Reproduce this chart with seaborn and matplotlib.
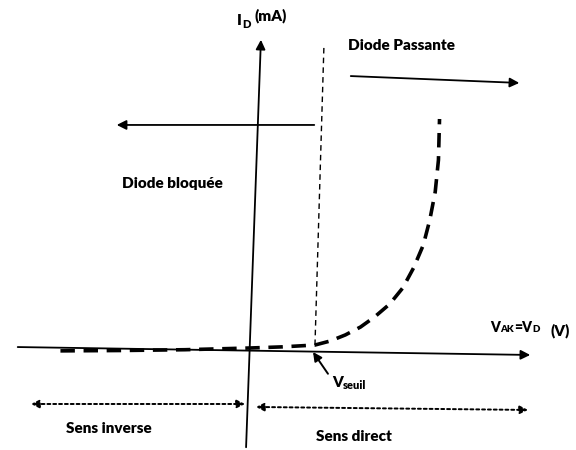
import numpy as np
import pandas as pd
import matplotlib.pyplot as plt
import seaborn as sns

# diode characteristic I_D = f(V_D) (V in volts, I in mA)
v_diode = [-1.75, -1.2, -0.6, 0.0, 0.3, 0.60, 0.74, 0.88, 1.02, 1.15, 1.29,
           1.41, 1.51, 1.60, 1.66, 1.71, 1.74, 1.75]
i_diode = [-0.25, -0.22, -0.15, 0.0, 0.1, 0.26, 0.61, 1.14, 1.83, 2.71, 3.84,
           5.24, 6.99, 8.99, 11.18, 13.62, 16.42, 20.0]
v_seuil = 0.6

curve = pd.DataFrame({'V': v_diode, 'I': i_diode})

sns.set_theme(style='white')
plt.rcParams['font.family'] = ['Lato', 'DejaVu Sans']

fig = plt.figure(figsize=(5.76, 4.5), dpi=100)
ax = fig.add_axes([0, 0, 1, 1])
ax.set_xlim(-2.308, 3.010)
ax.set_ylim(-8.908, 30.393)
ax.axis('off')

solid = dict(arrowstyle='-|>', color='black', lw=1.3, mutation_scale=14)

# axes of the diagram (slightly tilted like the scan)
ax.annotate('', xy=(0.102, 27.16), xytext=(-0.037, -8.91), arrowprops=solid)
ax.annotate('', xy=(2.613, -0.611), xytext=(-2.170, 0.087), arrowprops=solid)

# characteristic curve
sns.lineplot(data=curve, x='V', y='I', sort=False, ax=ax, color='black',
             lw=2.6, dashes=False, estimator=None)
ax.lines[-1].set_dashes((4, 2.4))

# threshold vertical
ax.plot([v_seuil, 0.683], [0.26, 26.46], color='black', lw=1.0, ls=(0, (4, 3)))

# region arrows
ax.annotate('', xy=(-1.256, 19.48), xytext=(0.619, 19.48), arrowprops=solid)
ax.annotate('', xy=(2.512, 23.14), xytext=(0.905, 23.76), arrowprops=solid)

# V seuil pointer
ax.annotate('', xy=(0.582, -0.35), xytext=(0.72, -2.25),
            arrowprops=dict(arrowstyle='-|>', color='black', lw=1.4,
                            mutation_scale=13, shrinkA=0, shrinkB=0))

# sens inverse / direct
dotted = dict(arrowstyle='<|-|>', color='black', lw=1.4, ls=(0, (1.5, 1.5)),
              mutation_scale=12, shrinkA=0, shrinkB=0)
ax.annotate('', xy=(-2.022, -4.89), xytext=(-0.046, -4.89), arrowprops=dotted)
ax.annotate('', xy=(0.055, -5.15), xytext=(2.567, -5.41), arrowprops=dotted)

tk = dict(color='black', fontweight='heavy', fontsize=11, va='center', ha='left')


def label(x, y, parts, size=11, sub_size=8):
    # parts: list of (text, is_subscript)
    t = m = None
    for txt, is_sub in parts:
        if t is None:
            t = m = ax.text(x, y, txt, color='black', fontweight='heavy',
                            fontsize=size, va='center', ha='left')
        elif is_sub:
            t = ax.annotate(txt, xy=(1, 0.62), xycoords=(t, m), xytext=(0.2, 0),
                            textcoords='offset points', color='black',
                            fontweight='heavy', fontsize=sub_size, va='top', ha='left')
        else:
            t = m = ax.annotate(txt, xy=(1, 0), xycoords=(t, m), xytext=(0, 0),
                                textcoords='offset points', color='black',
                                fontweight='heavy', fontsize=size, va='bottom', ha='left')
    return t


ax.text(0.905, 26.46, 'Diode Passante', **tk)
ax.text(-1.182, 14.41, 'Diode bloquée', **tk)
ax.text(-1.699, -7.07, 'Sens inverse', **tk)
ax.text(0.609, -7.69, 'Sens direct', **tk)
label(-0.12, 28.6, [('I', False), ('D', True)])
ax.text(0.04, 29.0, '(mA)', **tk)
label(2.216, 1.83, [('V', False), ('AK', True), ('=V', False), ('D', True)],
      size=10, sub_size=7)
ax.text(2.775, 1.55, '(V)', **tk)
label(0.757, -2.97, [('V', False), ('seuil', True)])

fig.savefig('out.png', dpi=100)
